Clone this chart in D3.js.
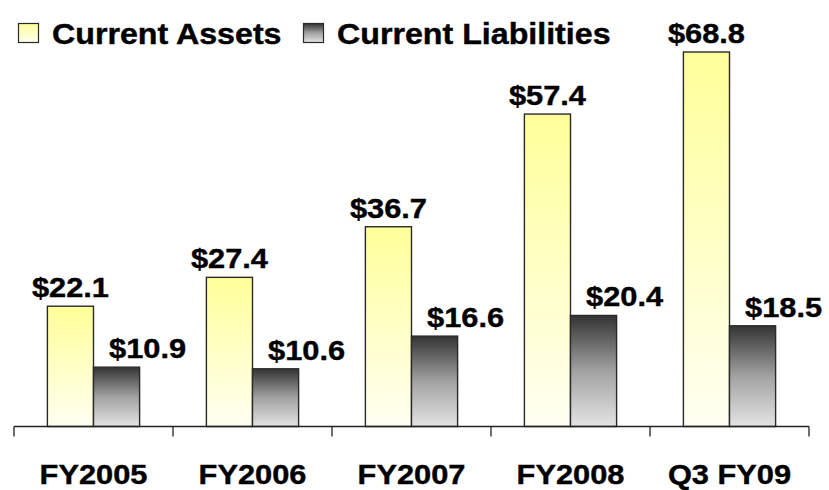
<!DOCTYPE html>
<html>
<head>
<meta charset="utf-8">
<script src="https://cdn.jsdelivr.net/npm/d3@7"></script>
<style>
  body { margin: 0; background: #fff; }
  text { font-family: Arial, "Liberation Sans", sans-serif; font-weight: bold; fill: #000; stroke: #000; stroke-width: 0.4px; }
</style>
</head>
<body>
<svg id="chart"></svg>
<script>
// Data
const categories = ["FY2005", "FY2006", "FY2007", "FY2008", "Q3 FY09"];
const seriesNames = ["Current Assets", "Current Liabilities"];
const currentAssets = [22.1, 27.4, 36.7, 57.4, 68.8];
const currentLiabilities = [10.9, 10.6, 16.6, 20.4, 18.5];

const width = 829;
const height = 490;
const stretch = 1.1; // text in the picture is slightly wide

const svg = d3.select("#chart")
  .attr("width", width)
  .attr("height", height);

// Gradients
const defs = svg.append("defs");
const gradAssets = defs.append("linearGradient")
  .attr("id", "gradAssets")
  .attr("x1", 0).attr("y1", 0).attr("x2", 0).attr("y2", 1);
gradAssets.append("stop").attr("offset", "0%").attr("stop-color", "#ffff99");
gradAssets.append("stop").attr("offset", "100%").attr("stop-color", "#fffff2");

const gradLiab = defs.append("linearGradient")
  .attr("id", "gradLiab")
  .attr("x1", 0).attr("y1", 0).attr("x2", 0).attr("y2", 1);
gradLiab.append("stop").attr("offset", "0%").attr("stop-color", "#333333");
gradLiab.append("stop").attr("offset", "50%").attr("stop-color", "#a2a2a2");
gradLiab.append("stop").attr("offset", "100%").attr("stop-color", "#e4e4e4");

const fills = ["url(#gradAssets)", "url(#gradLiab)"];

// Scales
const xScale = d3.scaleBand()
  .domain(categories)
  .range([14, 809])
  .paddingInner(0.42)
  .paddingOuter(0.21);

const xInner = d3.scaleBand()
  .domain(seriesNames)
  .range([0, xScale.bandwidth()]);

const yScale = d3.scaleLinear()
  .domain([0, d3.max(currentAssets)])
  .range([426.5, 52]);

// Rows for the bars
const rows = categories.map((c, i) => ({
  category: c,
  values: [
    { series: seriesNames[0], value: currentAssets[i], idx: 0 },
    { series: seriesNames[1], value: currentLiabilities[i], idx: 1 }
  ]
}));

const groups = svg.selectAll(".cat")
  .data(rows)
  .enter()
  .append("g")
  .attr("class", "cat")
  .attr("transform", d => "translate(" + xScale(d.category) + ",0)");

groups.selectAll("rect")
  .data(d => d.values)
  .enter()
  .append("rect")
  .attr("x", d => xInner(d.series))
  .attr("y", d => yScale(d.value))
  .attr("width", xInner.bandwidth())
  .attr("height", d => yScale(0) - yScale(d.value))
  .attr("fill", d => fills[d.idx])
  .attr("stroke", "#2a2a2a")
  .attr("stroke-width", 1.4);

// Value labels
groups.selectAll(".val")
  .data(d => d.values)
  .enter()
  .append("text")
  .attr("class", "val")
  .attr("text-anchor", "middle")
  .attr("font-size", 28)
  .attr("transform", d => {
    const cx = xInner(d.series) + xInner.bandwidth() / 2 + (d.idx === 1 ? 31 : 0);
    const cy = yScale(d.value) - 9;
    return "translate(" + cx + "," + cy + ") scale(" + stretch + ",1)";
  })
  .text(d => "$" + d.value.toFixed(1));

// Axis: baseline with ticks at the category boundaries
const axisY = yScale(0);
const axisG = svg.append("g").attr("class", "x-axis");
const [x0, x1] = xScale.range();
axisG.append("line")
  .attr("x1", x0).attr("x2", x1)
  .attr("y1", axisY).attr("y2", axisY)
  .attr("stroke", "#222").attr("stroke-width", 1.3);

const bounds = d3.range(categories.length + 1).map(i => x0 + i * xScale.step());
axisG.selectAll(".tick")
  .data(bounds)
  .enter()
  .append("line")
  .attr("class", "tick")
  .attr("x1", d => d).attr("x2", d => d)
  .attr("y1", axisY).attr("y2", axisY + 10)
  .attr("stroke", "#222").attr("stroke-width", 1.3);

axisG.selectAll(".cat-label")
  .data(categories)
  .enter()
  .append("text")
  .attr("class", "cat-label")
  .attr("text-anchor", "middle")
  .attr("font-size", 28)
  .attr("transform", d => "translate(" + (xScale(d) + xScale.bandwidth() / 2) + ",484) scale(" + stretch + ",1)")
  .text(d => d);

// Legend
const legendItems = [
  { name: seriesNames[0], x: 18, fill: fills[0] },
  { name: seriesNames[1], x: 303, fill: fills[1] }
];

const legend = svg.append("g").attr("class", "legend");
const li = legend.selectAll(".item")
  .data(legendItems)
  .enter()
  .append("g")
  .attr("class", "item")
  .attr("transform", d => "translate(" + d.x + ",0)");

li.append("rect")
  .attr("x", 0.5).attr("y", 23.5)
  .attr("width", 20).attr("height", 19)
  .attr("fill", d => d.fill)
  .attr("stroke", "#2a2a2a")
  .attr("stroke-width", 1.2);

li.append("text")
  .attr("font-size", 29)
  .attr("transform", "translate(34,44) scale(1.11,1)")
  .text(d => d.name);
</script>
</body>
</html>
